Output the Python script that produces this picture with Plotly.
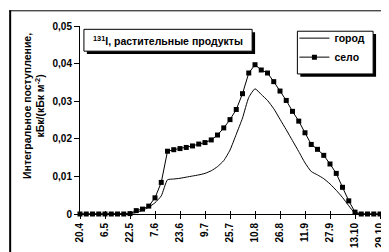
import plotly.graph_objects as go

dates = ["20.4", "24.4", "28.4", "2.5", "6.5", "10.5", "14.5", "18.5", "22.5", "26.5",
         "30.5", "3.6", "7.6", "11.6", "15.6", "19.6", "23.6", "27.6", "1.7", "5.7",
         "9.7", "13.7", "17.7", "21.7", "25.7", "29.7", "2.8", "6.8", "10.8", "14.8",
         "18.8", "22.8", "26.8", "30.8", "3.9", "7.9", "11.9", "15.9", "19.9", "23.9",
         "27.9", "1.10", "5.10", "9.10", "13.10", "17.10", "21.10", "25.10", "29.10"]

gorod = [0, 0, 0, 0, 0, 0, 0, 0, 0.0001, 0.0004,
         0.0010, 0.0018, 0.0030, 0.0048, 0.0091, 0.0093, 0.0095, 0.0098, 0.0101, 0.0104,
         0.0108, 0.0115, 0.0126, 0.0142, 0.0170, 0.0212, 0.0255, 0.0310, 0.0333, 0.0318,
         0.0302, 0.0280, 0.0252, 0.0224, 0.0195, 0.0166, 0.0136, 0.0113, 0.0104, 0.0094,
         0.0080, 0.0063, 0.0044, 0.0022, 0.0002, 0, 0, 0, 0]

selo = [0, 0, 0, 0, 0, 0, 0, 0, 0.0001, 0.0009,
        0.0013, 0.0021, 0.0043, 0.0084, 0.0167, 0.0171, 0.0174, 0.0177, 0.0181, 0.0186,
        0.0190, 0.0197, 0.0210, 0.0229, 0.0251, 0.0278, 0.0320, 0.0375, 0.0397, 0.0383,
        0.0375, 0.0352, 0.0327, 0.0302, 0.0273, 0.0247, 0.0216, 0.0185, 0.0172, 0.0156,
        0.0133, 0.0108, 0.0071, 0.0035, 0.0005, 0, 0, 0, 0]

x_labels = ["20.4", "6.5", "22.5", "7.6", "23.6", "9.7", "25.7", "10.8", "26.8",
            "11.9", "27.9", "13.10", "29.10"]
y_ticks = [0, 0.01, 0.02, 0.03, 0.04, 0.05]
y_labels = ["0", "0,01", "0,02", "0,03", "0,04", "0,05"]

FONT = "Liberation Sans"
W, H = 389, 252
L, R, T, B = 72, 12, 16.5, 37.5
PW = W - L - R
PH = H - T - B


def px(x):
    return (x - L) / PW


def py(y):
    return (H - B - y) / PH


fig = go.Figure()
fig.add_trace(go.Scatter(
    x=dates, y=gorod, name="город", mode="lines",
    line=dict(color="black", width=1, shape="spline", smoothing=0.5),
    cliponaxis=False))
fig.add_trace(go.Scatter(
    x=dates, y=selo, name="село", mode="lines+markers",
    line=dict(color="black", width=1),
    marker=dict(symbol="square", size=5, color="black"),
    cliponaxis=False))
# carrier for the inner half of the crossing x tick marks
fig.add_trace(go.Scatter(
    x=dates, y=selo, mode="none", xaxis="x2", showlegend=False, hoverinfo="skip"))

shapes = []
# outer frame
shapes.append(dict(type="line", xref="paper", yref="paper", x0=px(1), x1=px(1), y0=py(0), y1=py(260),
                   line=dict(color="black", width=2)))
shapes.append(dict(type="line", xref="paper", yref="paper", x0=px(0), x1=px(386), y0=py(0.5), y1=py(0.5),
                   line=dict(color="black", width=1)))
shapes.append(dict(type="line", xref="paper", yref="paper", x0=px(385.5), x1=px(385.5), y0=py(0), y1=py(260),
                   line=dict(color="black", width=1)))
# title box with shadow
shapes.append(dict(type="rect", xref="paper", yref="paper", x0=px(79), x1=px(250), y0=py(23), y1=py(46),
                   fillcolor="black", line=dict(width=0), layer="above"))
shapes.append(dict(type="rect", xref="paper", yref="paper", x0=px(76), x1=px(247), y0=py(20), y1=py(43),
                   fillcolor="white", line=dict(color="black", width=1), layer="above"))
# legend box with shadow
shapes.append(dict(type="rect", xref="paper", yref="paper", x0=px(296), x1=px(373), y0=py(25), y1=py(70),
                   fillcolor="black", line=dict(width=0), layer="above"))
shapes.append(dict(type="rect", xref="paper", yref="paper", x0=px(293), x1=px(370), y0=py(22), y1=py(67),
                   fillcolor="white", line=dict(color="black", width=1), layer="above"))

annotations = [
    dict(xref="paper", yref="paper", x=px(161.5), y=py(31.5), xanchor="center", yanchor="middle",
         text="<sup>131</sup>I, растительные продукты", showarrow=False,
         font=dict(family=FONT, size=10.5, color="black", weight="bold")),
    dict(xref="paper", yref="paper", x=px(25), y=py(101), xanchor="center", yanchor="middle",
         text="Интегральное поступление,<br>кБк/(кБк м<sup>-2</sup>)", showarrow=False, textangle=-90,
         font=dict(family=FONT, size=10.5, color="black", weight="bold")),
]

fig.update_layout(
    width=W, height=H,
    margin=dict(l=L, r=R, t=T, b=B, pad=0),
    paper_bgcolor="white", plot_bgcolor="white",
    showlegend=True,
    legend=dict(x=px(290), y=py(14), xanchor="left", yanchor="top",
                bgcolor="rgba(0,0,0,0)", borderwidth=0, itemwidth=30,
                font=dict(family=FONT, size=10.5, color="black", weight="bold"),
                tracegroupgap=0),
    shapes=shapes,
    annotations=annotations,
    font=dict(family=FONT, color="black"),
    xaxis2=dict(type="category", overlaying="x", anchor="y", side="bottom",
                range=[0, len(dates) - 1], tickmode="array", tickvals=x_labels,
                ticks="inside", ticklen=3, tickcolor="black", tickwidth=1,
                showticklabels=False, showline=False, showgrid=False, zeroline=False),
)

fig.update_xaxes(
    selector=dict(anchor="y", overlaying=None),
)
fig.layout.xaxis.update(
    type="category", range=[0, len(dates) - 1],
    tickmode="array", tickvals=x_labels, ticktext=x_labels,
    tickangle=-90, ticks="outside", ticklen=4, tickcolor="black", tickwidth=1,
    showline=True, linecolor="black", linewidth=1, showgrid=False, zeroline=False,
    tickfont=dict(family=FONT, size=10, color="black", weight="bold"),
)
fig.update_yaxes(
    range=[0, 0.05], tickmode="array", tickvals=y_ticks, ticktext=y_labels,
    ticks="outside", ticklen=5, tickcolor="black", tickwidth=1,
    showline=True, linecolor="black", linewidth=1, showgrid=False, zeroline=False,
    tickfont=dict(family=FONT, size=10, color="black", weight="bold"),
)

fig.write_html("out.html")
